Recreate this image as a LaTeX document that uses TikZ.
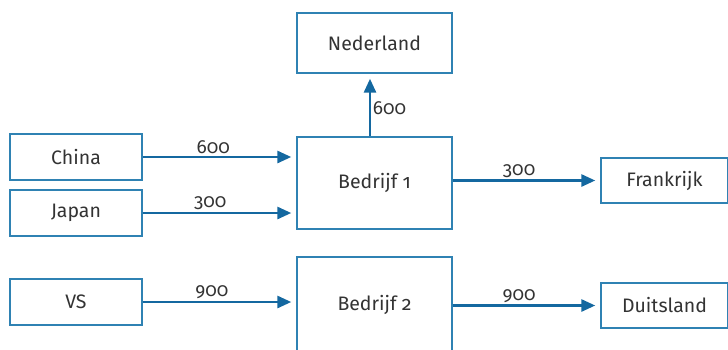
\documentclass[tikz,border=0pt]{standalone}
\usepackage{fontspec}
\setmainfont[Numbers=OldStyle]{Fira Sans}
\usetikzlibrary{arrows.meta}
\definecolor{boxblue}{HTML}{2F82B3}
\definecolor{arrblue}{HTML}{1468A0}
\definecolor{txt}{HTML}{333333}
\tikzset{
  box/.style={draw=boxblue, line width=1.4pt, fill=white, text=txt, font=\fontsize{19.5}{22}\selectfont, inner sep=0pt},
  flow/.style={draw=arrblue, line width=2.8pt, -{Triangle[length=14pt,width=12pt]}, shorten >=5pt},
  lbl/.style={text=txt, font=\fontsize{19}{22}\selectfont, inner sep=1.5pt}
}
\begin{document}
\begin{tikzpicture}[x=1pt,y=-1pt]
\useasboundingbox (0,0) rectangle (728,349);
\node[box, minimum width=132pt, minimum height=46pt] (China) at (76,157) {China};
\node[box, minimum width=132pt, minimum height=46pt] (Japan) at (76,213) {Japan};
\node[box, minimum width=132pt, minimum height=46pt] (VS) at (76,302) {VS};
\node[box, minimum width=155pt, minimum height=60pt] (Ned) at (374.5,43) {Nederland};
\node[box, minimum width=155pt, minimum height=92pt] (B1) at (374.5,183) {Bedrijf 1};
\node[box, minimum width=155pt, minimum height=96pt] (B2) at (374.5,305) {Bedrijf 2};
\node[box, minimum width=127pt, minimum height=45pt] (Fr) at (664.5,180.5) {Frankrijk};
\node[box, minimum width=127pt, minimum height=45pt] (De) at (664.5,305.5) {Duitsland};
\draw[flow] (China.east) -- node[lbl, anchor=south, pos=0.46] {600} (China.east -| B1.west);
\draw[flow] (Japan.east) -- node[lbl, anchor=south, pos=0.44] {300} (Japan.east -| B1.west);
\draw[flow] (VS.east) -- node[lbl, anchor=south, pos=0.45] {900} (VS.east -| B2.west);
\draw[flow] (B1.east |- Fr.west) -- node[lbl, anchor=south, pos=0.45] {300} (Fr.west);
\draw[flow] (B2.east |- De.west) -- node[lbl, anchor=south, pos=0.45] {900} (De.west);
\draw[flow] ([xshift=-4.5pt]B1.north) -- node[lbl, anchor=west, pos=0.45] {600} ([xshift=-4.5pt]Ned.south);
\end{tikzpicture}
\end{document}
